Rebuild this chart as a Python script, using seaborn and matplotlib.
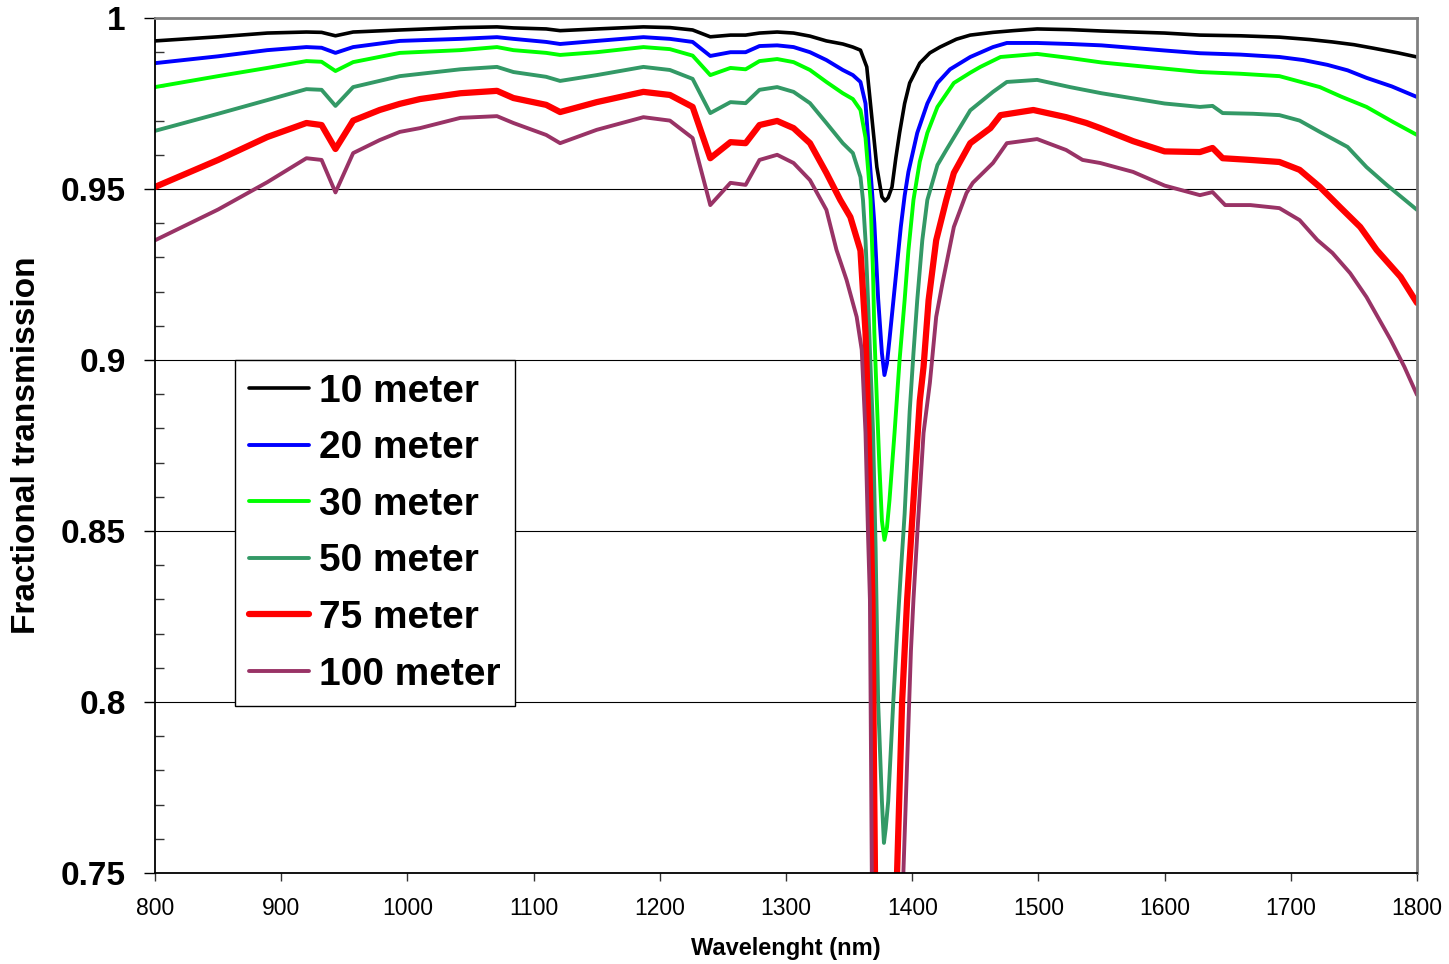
import matplotlib
matplotlib.use("Agg")
import matplotlib.pyplot as plt
import numpy as np
import pandas as pd
import seaborn as sns
from matplotlib.ticker import MultipleLocator

# ---------------- data ----------------
wl_10 = [800, 850, 889, 920, 932, 943, 957, 994, 1042, 1071, 1084, 1110, 1121, 1150, 1187, 1208, 1226, 1240, 1256, 1268,
         1279, 1293, 1306, 1319, 1332, 1345, 1353, 1359, 1364, 1368, 1372, 1376, 1378.5, 1381, 1384, 1387, 1390, 1394, 1398, 1406,
         1414, 1422, 1435, 1446, 1464, 1480, 1499, 1525, 1550, 1600, 1628, 1660, 1691, 1715, 1733, 1750, 1765, 1785, 1800]
tr_10 = [0.9933, 0.9945, 0.9956, 0.9959, 0.9958, 0.9948, 0.9959, 0.9965, 0.9972, 0.9974, 0.9971, 0.9968, 0.9963, 0.9968, 0.9974, 0.9972, 0.9965, 0.9945, 0.995, 0.995,
         0.9956, 0.9959, 0.9956, 0.9947, 0.9933, 0.9924, 0.9915, 0.9906, 0.9857, 0.971, 0.9564, 0.9477, 0.9465, 0.9475, 0.9506, 0.959, 0.9664, 0.975, 0.981, 0.9868,
         0.9898, 0.9915, 0.9938, 0.995, 0.9958, 0.9963, 0.9968, 0.9966, 0.9962, 0.9956, 0.995, 0.9948, 0.9944, 0.9937, 0.993, 0.9922, 0.9912, 0.9898, 0.9886]

wl_20 = [800, 850, 889, 920, 932, 943, 957, 994, 1042, 1071, 1084, 1110, 1121, 1150, 1187, 1208, 1226, 1240, 1256, 1268,
         1279, 1293, 1306, 1319, 1332, 1345, 1353, 1359, 1363, 1367, 1370, 1373, 1376, 1378, 1380, 1382, 1385, 1388, 1391, 1394,
         1397, 1404, 1412, 1420, 1430, 1446, 1464, 1475, 1499, 1525, 1550, 1600, 1628, 1660, 1691, 1710, 1729, 1745, 1760, 1780, 1800]
tr_20 = [0.9868, 0.9888, 0.9906, 0.9915, 0.9913, 0.9898, 0.9915, 0.9933, 0.9939, 0.9944, 0.9939, 0.993, 0.9924, 0.9933, 0.9944, 0.9939, 0.993, 0.9889, 0.990, 0.990,
         0.9918, 0.992, 0.9915, 0.990, 0.9877, 0.9848, 0.9833, 0.9813, 0.975, 0.955, 0.940, 0.918, 0.902, 0.8956, 0.899, 0.906, 0.917, 0.928, 0.939, 0.948,
         0.955, 0.9664, 0.975, 0.981, 0.985, 0.9886, 0.9915, 0.9927, 0.9927, 0.9924, 0.992, 0.9905, 0.9897, 0.9893, 0.9886, 0.9877, 0.9863, 0.9847, 0.9825, 0.980, 0.9769]

wl_30 = [800, 850, 889, 920, 932, 943, 957, 994, 1042, 1071, 1084, 1110, 1121, 1150, 1187, 1208, 1226, 1240, 1256, 1268,
         1279, 1293, 1306, 1319, 1332, 1345, 1353, 1359, 1363, 1365, 1367, 1369, 1370, 1372, 1374, 1376, 1378, 1380, 1382, 1386,
         1390, 1394, 1397, 1401, 1406, 1412, 1420, 1433, 1446, 1454, 1470, 1499, 1525, 1550, 1600, 1628, 1660, 1691, 1723, 1740,
         1760, 1781, 1800]
tr_30 = [0.9798, 0.983, 0.9854, 0.9874, 0.9872, 0.9845, 0.9871, 0.9898, 0.9906, 0.9915, 0.9906, 0.9898, 0.9892, 0.990, 0.9915, 0.9909, 0.989, 0.9833, 0.9854, 0.985,
         0.9874, 0.988, 0.9871, 0.9848, 0.9813, 0.978, 0.9763, 0.9731, 0.965, 0.956, 0.9468, 0.925, 0.908, 0.888, 0.869, 0.853, 0.8474, 0.851, 0.859, 0.8787,
         0.900, 0.9175, 0.932, 0.9468, 0.958, 0.9664, 0.974, 0.981, 0.984, 0.9857, 0.9886, 0.9895, 0.9883, 0.987, 0.9852, 0.9842, 0.9837, 0.983, 0.9798, 0.977,
         0.974, 0.9696, 0.9658]

wl_50 = [800, 850, 889, 920, 932, 943, 957, 994, 1042, 1071, 1084, 1110, 1121, 1150, 1187, 1208, 1226, 1240, 1256, 1268,
         1279, 1293, 1306, 1319, 1332, 1345, 1353, 1359, 1361, 1363, 1365, 1367, 1369, 1371, 1373, 1376, 1377.6, 1379, 1381, 1385,
         1388, 1391, 1394, 1398, 1401, 1404, 1408, 1412, 1420, 1427, 1446, 1464, 1475, 1499, 1525, 1550, 1600, 1628, 1638, 1646,
         1670, 1691, 1707, 1723, 1745, 1760, 1776, 1800]
tr_50 = [0.967, 0.972, 0.976, 0.9792, 0.979, 0.9743, 0.9798, 0.983, 0.985, 0.9857, 0.9842, 0.9828, 0.9816, 0.9833, 0.9857, 0.9848, 0.9822, 0.9722, 0.9754, 0.9751,
         0.979, 0.9798, 0.9784, 0.9751, 0.9693, 0.9634, 0.9605, 0.9535, 0.9468, 0.935, 0.9175, 0.898, 0.8787, 0.845, 0.800, 0.771, 0.7588, 0.763, 0.771, 0.800,
         0.820, 0.838, 0.855, 0.885, 0.902, 0.9175, 0.935, 0.9468, 0.957, 0.9614, 0.973, 0.9784, 0.9813, 0.9819, 0.9798, 0.978, 0.975, 0.974, 0.9743, 0.9722,
         0.972, 0.9716, 0.970, 0.9667, 0.9623, 0.9564, 0.9512, 0.9439]

wl_75 = [800, 850, 889, 920, 932, 943, 957, 978, 994, 1010, 1042, 1071, 1084, 1110, 1121, 1150, 1187, 1208, 1226, 1240,
         1256, 1268, 1279, 1293, 1306, 1319, 1332, 1343, 1351, 1359, 1363, 1365.5, 1368.5, 1370.5, 1374, 1379, 1384, 1388, 1392, 1396,
         1401, 1406, 1409, 1413, 1419, 1427, 1433, 1446, 1462, 1470, 1496, 1522, 1538, 1549, 1575, 1600, 1628, 1638, 1646, 1668,
         1691, 1707, 1723, 1739, 1755, 1768, 1787, 1800]
tr_75 = [0.9506, 0.9585, 0.9652, 0.9693, 0.9687, 0.9617, 0.970, 0.9731, 0.9749, 0.9763, 0.978, 0.9787, 0.9766, 0.9746, 0.9725, 0.9754, 0.9784, 0.9775, 0.974, 0.959,
         0.9637, 0.9634, 0.9687, 0.9699, 0.9678, 0.9634, 0.9547, 0.9468, 0.9418, 0.932, 0.908, 0.879, 0.830, 0.750, 0.680, 0.630, 0.680, 0.750, 0.800, 0.830,
         0.859, 0.888, 0.898, 0.9175, 0.935, 0.9468, 0.9547, 0.9634, 0.9678, 0.9716, 0.9731, 0.971, 0.9693, 0.9678, 0.964, 0.961, 0.9608, 0.962, 0.959, 0.9585,
         0.9579, 0.9556, 0.9506, 0.9447, 0.9389, 0.9322, 0.9243, 0.9167]

wl_100 = [800, 850, 889, 920, 932, 943, 957, 978, 994, 1010, 1042, 1071, 1084, 1110, 1121, 1150, 1187, 1208, 1226, 1240,
          1256, 1268, 1279, 1293, 1306, 1319, 1332, 1340, 1348, 1356, 1360, 1363, 1365, 1366.5, 1368, 1372, 1379, 1386, 1393, 1399,
          1401, 1404, 1409, 1414, 1419, 1424, 1433, 1443, 1448, 1464, 1475, 1499, 1522, 1535, 1549, 1575, 1600, 1628, 1638, 1648,
          1668, 1691, 1707, 1721, 1733, 1747, 1760, 1779, 1790, 1800]
tr_100 = [0.935, 0.944, 0.952, 0.959, 0.9585, 0.949, 0.9605, 0.9643, 0.9667, 0.9678, 0.9708, 0.9713, 0.9693, 0.9658, 0.9634, 0.9673, 0.971, 0.970, 0.9649, 0.9453,
          0.9518, 0.9512, 0.9585, 0.960, 0.9576, 0.9526, 0.9439, 0.9322, 0.9234, 0.9126, 0.903, 0.8787, 0.849, 0.830, 0.750, 0.660, 0.600, 0.660, 0.750, 0.815,
          0.830, 0.849, 0.8787, 0.8933, 0.9126, 0.9225, 0.9389, 0.9488, 0.9518, 0.9576, 0.9634, 0.9646, 0.9614, 0.9585, 0.9576, 0.955, 0.951, 0.9482, 0.9491, 0.9453,
          0.9453, 0.9444, 0.9409, 0.9351, 0.9313, 0.9254, 0.9184, 0.906, 0.898, 0.8898]

series_labels = ["10 meter", "20 meter", "30 meter", "50 meter", "75 meter", "100 meter"]
x_ticks = [800, 900, 1000, 1100, 1200, 1300, 1400, 1500, 1600, 1700, 1800]
y_ticks = [0.75, 0.8, 0.85, 0.9, 0.95, 1.0]
y_tick_labels = ["0.75", "0.8", "0.85", "0.9", "0.95", "1"]

# ---------------- style ----------------
colors = ["#000000", "#0000FF", "#00FF00", "#339966", "#FF0000", "#993366"]
widths = [2.6, 2.8, 2.8, 2.8, 4.5, 2.8]

sns.set_theme(style="white")
plt.rcParams['font.family'] = ['Liberation Sans', 'DejaVu Sans']
plt.rcParams['text.color'] = 'black'
plt.rcParams['axes.labelcolor'] = 'black'
plt.rcParams['xtick.color'] = 'black'
plt.rcParams['ytick.color'] = 'black'

W, H = 1449, 964
fig = plt.figure(figsize=(W / 100, H / 100), dpi=100)
L, R, T, B = 155, 1417, 18, 873
ax = fig.add_axes([L / W, 1 - B / H, (R - L) / W, (B - T) / H])

all_wl = [wl_10, wl_20, wl_30, wl_50, wl_75, wl_100]
all_tr = [tr_10, tr_20, tr_30, tr_50, tr_75, tr_100]
for lab, wl, tr, c, lw in zip(series_labels, all_wl, all_tr, colors, widths):
    df = pd.DataFrame({"Wavelength": wl, "Transmission": tr})
    sns.lineplot(data=df, x="Wavelength", y="Transmission", color=c, linewidth=lw,
                 label=lab, ax=ax, sort=False, estimator=None)

ax.set_xlim(800, 1800)
ax.set_ylim(0.75, 1.0)
ax.set_xticks(x_ticks, labels=[str(v) for v in x_ticks], fontsize=16.5)
ax.set_yticks(y_ticks, labels=y_tick_labels, fontsize=24, fontweight='bold')
ax.yaxis.set_minor_locator(MultipleLocator(0.01))

ax.tick_params(axis='y', which='major', direction='out', length=8, width=1.0,
               color='black', pad=13, left=True, labelcolor='black')
ax.tick_params(axis='y', which='minor', direction='in', length=6.5, width=1.0,
               color='#333333', left=True)
ax.tick_params(axis='x', which='major', direction='out', length=6, width=1.0,
               color='#333333', pad=11, bottom=True, labelcolor='black')

ax.grid(axis='y', which='major', color='black', linewidth=0.8)
ax.grid(axis='x', visible=False)

for side in ['left', 'bottom']:
    ax.spines[side].set_color('black')
    ax.spines[side].set_linewidth(1.3)
for side in ['top', 'right']:
    ax.spines[side].set_color('#808080')
    ax.spines[side].set_linewidth(2.0)

ax.set_xlabel("Wavelenght (nm)", fontsize=17, fontweight='bold', color='black')
ax.xaxis.set_label_coords(0.5, (B - 948) / (B - T))
ax.xaxis.label.set_va('center')
ax.set_ylabel("Fractional transmission", fontsize=24, fontweight='bold', color='black')
ax.yaxis.set_label_coords((27 - L) / (R - L), 0.5)
ax.yaxis.label.set_va('center')

leg = ax.legend(loc='upper left', bbox_to_anchor=((235 - L) / (R - L), 1 - (360 - T) / (B - T)),
                prop={'weight': 'bold', 'size': 28}, handlelength=1.55, handletextpad=0.27,
                labelspacing=0.53, borderpad=0.35, borderaxespad=0, frameon=True,
                fancybox=False, edgecolor='black', framealpha=1)
leg.get_frame().set_linewidth(1.0)
for txt in leg.get_texts():
    txt.set_color('black')

fig.savefig("out.png", dpi=100)
